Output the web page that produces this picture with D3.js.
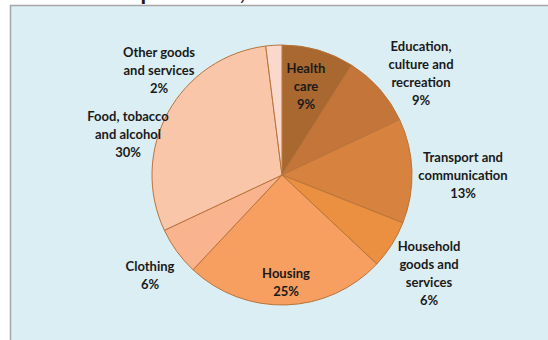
<!DOCTYPE html>
<html>
<head>
<meta charset="utf-8">
<script src="https://cdn.jsdelivr.net/npm/d3@7"></script>
<style>
  html, body { margin: 0; padding: 0; background: #ffffff; }
  svg { display: block; }
  text { font-family: Lato, "Open Sans", sans-serif; font-weight: bold; fill: #1a1a1a; }
</style>
</head>
<body>
<svg id="chart" width="548" height="340"></svg>
<script>
// Household spending shares, percent
const categories = [
  "Health care",
  "Education, culture and recreation",
  "Transport and communication",
  "Household goods and services",
  "Housing",
  "Clothing",
  "Food, tobacco and alcohol",
  "Other goods and services"
];
const shares = [9, 9, 13, 6, 25, 6, 30, 2];

// Label text broken into the lines that are drawn
const labelLines = [
  ["Health", "care"],
  ["Education,", "culture and", "recreation"],
  ["Transport and", "communication"],
  ["Household", "goods and", "services"],
  ["Housing"],
  ["Clothing"],
  ["Food, tobacco", "and alcohol"],
  ["Other goods", "and services"]
];

const sliceColors = ["#A9682F", "#C4753A", "#D8823F", "#EB8F40", "#F79E61", "#F9B48F", "#F9C6AA", "#FAD8CB"];

// Label anchor positions (centre of each text block)
const labelPos = [
  [306, 86], [421, 73], [463, 175], [429, 273],
  [286, 282], [150, 275], [128, 134], [159, 70]
];

const svg = d3.select("#chart");

// Title, running along the top edge
svg.append("text")
  .attr("x", 0)
  .attr("y", 0)
  .attr("font-size", 23)
  .text("Household expenditure, 2016");

// Panel
svg.append("rect")
  .attr("x", 10.5).attr("y", 5.5)
  .attr("width", 545).attr("height", 340)
  .attr("fill", "#DAEEF3")
  .attr("stroke", "#A6A6A6")
  .attr("stroke-width", 1.5);

const cx = 282, cy = 175, r = 130;

const data = categories.map((c, i) => ({ name: c, value: shares[i], i }));

const pie = d3.pie().value(d => d.value).sort(null);
const arc = d3.arc().innerRadius(0).outerRadius(r);

const g = svg.append("g").attr("transform", `translate(${cx},${cy})`);

g.selectAll("path")
  .data(pie(data))
  .join("path")
  .attr("d", arc)
  .attr("fill", d => sliceColors[d.data.i])
  .attr("stroke", "#B8743A")
  .attr("stroke-width", 1);

// Labels: name lines followed by the percentage
const lineH = 18;
data.forEach((d, i) => {
  const lines = labelLines[i].concat([d.value + "%"]);
  const [x, y] = labelPos[i];
  const top = y - (lines.length - 1) * lineH / 2;
  const t = svg.append("text")
    .attr("text-anchor", "middle")
    .attr("font-size", 13);
  lines.forEach((ln, k) => {
    t.append("tspan")
      .attr("x", x)
      .attr("y", top + k * lineH)
      .attr("dy", "0.35em")
      .text(ln);
  });
});
</script>
</body>
</html>
